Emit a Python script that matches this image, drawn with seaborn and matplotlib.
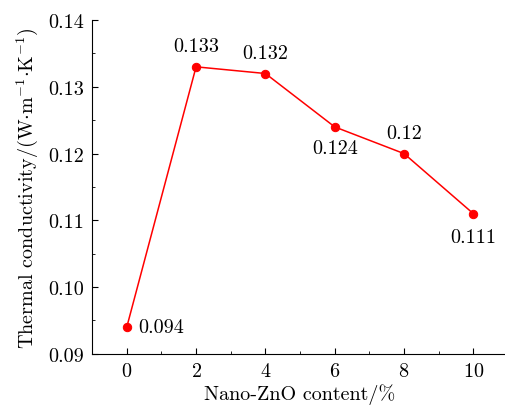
import numpy as np
import pandas as pd
import matplotlib
matplotlib.use("Agg")
import matplotlib.pyplot as plt
import seaborn as sns
from matplotlib.ticker import MultipleLocator

# data
zno_content = [0, 2, 4, 6, 8, 10]
conductivity = [0.094, 0.133, 0.132, 0.124, 0.120, 0.111]
point_labels = ["0.094", "0.133", "0.132", "0.124", "0.12", "0.111"]

df = pd.DataFrame({"zno": zno_content, "k": conductivity})

sns.set_style("ticks", {"text.color": "black", "axes.labelcolor": "black",
                        "xtick.color": "black", "ytick.color": "black",
                        "axes.edgecolor": "black"})
plt.rcParams["font.family"] = ["cmr10", "DejaVu Serif"]
plt.rcParams["mathtext.fontset"] = "cm"
plt.rcParams["axes.formatter.use_mathtext"] = True

FS = 14.5

fig = plt.figure(figsize=(5.06, 4.06), dpi=100)
ax = fig.add_axes([0.182, 0.126, 0.822, 0.822])

sns.lineplot(data=df, x="zno", y="k", color="red", lw=1.1, marker="o",
             markersize=6, markeredgecolor="red", ax=ax)

# label offsets (points) for each value
offsets = [(8, 0), (0, 15), (0, 15), (0, -15), (0, 15), (0, -17)]
for x, y, t, off in zip(zno_content, conductivity, point_labels, offsets):
    ha = "left" if off[0] > 0 else "center"
    ax.annotate(t, (x, y), xytext=off, textcoords="offset points",
                ha=ha, va="center", fontsize=FS, color="black")

ax.set_xlim(-1, 11)
ax.set_ylim(0.09, 0.14)
ax.set_xticks(zno_content)
ax.set_yticks([0.09, 0.10, 0.11, 0.12, 0.13, 0.14])
ax.set_yticklabels(["0.09", "0.10", "0.11", "0.12", "0.13", "0.14"])
ax.xaxis.set_minor_locator(MultipleLocator(1))
ax.yaxis.set_minor_locator(MultipleLocator(0.005))
ax.tick_params(which="both", direction="in", labelsize=FS, top=False, right=False)
ax.tick_params(which="major", length=4.5, pad=6)
ax.tick_params(which="minor", length=2.5)
sns.despine(ax=ax)

ax.set_xlabel("Nano-ZnO content/%", fontsize=FS, labelpad=2)
ax.set_ylabel(r"Thermal conductivity/(W${\cdot}$m$^{-1}{\cdot}$K$^{-1}$)", fontsize=FS,
              labelpad=6)

fig.savefig("out.png", dpi=100)
